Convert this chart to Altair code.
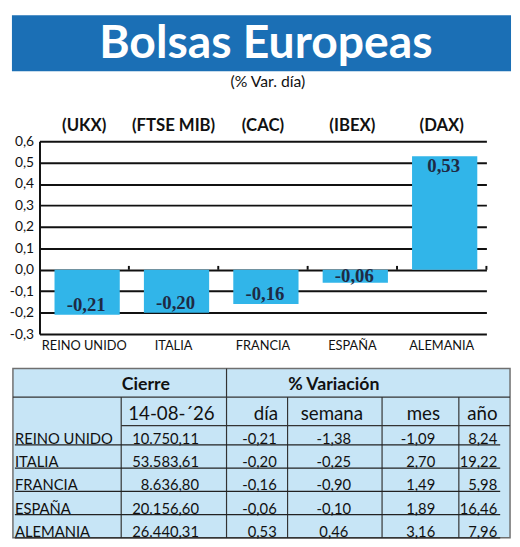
import altair as alt
import pandas as pd

# ---------------- data ----------------
TITLE = "Bolsas Europeas"
SUBTITLE = "(% Var. día)"
paises = ["REINO UNIDO", "ITALIA", "FRANCIA", "ESPAÑA", "ALEMANIA"]
indices = ["(UKX)", "(FTSE MIB)", "(CAC)", "(IBEX)", "(DAX)"]
var_dia = [-0.21, -0.20, -0.16, -0.06, 0.53]
cierre = [10750.11, 53583.61, 8636.80, 20156.60, 26440.31]
var_semana = [-1.38, -0.25, -0.90, -0.10, 0.46]
var_mes = [-1.09, 2.70, 1.49, 1.89, 3.16]
var_anio = [8.24, 19.22, 5.98, 16.46, 7.96]
fecha = "14-08-\u00b426"
col_heads = ["día", "semana", "mes", "año"]
y_ticks = [-0.3, -0.2, -0.1, 0.0, 0.1, 0.2, 0.3, 0.4, 0.5, 0.6]


def es(v):
    return f"{v:.2f}".replace(".", ",")


def es_miles(v):
    return f"{v:,.2f}".replace(",", "X").replace(".", ",").replace("X", ".")


df = pd.DataFrame({
    "pais": paises,
    "indice": indices,
    "dia": var_dia,
    "dia_txt": [es(v) for v in var_dia],
    "cierre_txt": [es_miles(v) for v in cierre],
    "semana_txt": [es(v) for v in var_semana],
    "mes_txt": [es(v) for v in var_mes],
    "anio_txt": [es(v) for v in var_anio],
})
one = pd.DataFrame({"k": [0]})

# ---------------- style ----------------
BLUE = "#1b6fb5"
BAR = "#31b5e9"
TBG = "#c7e5f6"
INK = "#111111"
VAL = "#1e2a44"
SANS = "Lato"
W, H = 454, 196

# ---------------- header ----------------
hb = alt.Chart(one)
banner = hb.mark_rect(color=BLUE).encode(
    x=alt.value(-28), x2=alt.value(479), y=alt.value(2), y2=alt.value(59))
title = hb.mark_text(font=SANS, fontWeight="bold", fontSize=47, color="white",
                     align="center", baseline="alphabetic").encode(
    x=alt.value(230), y=alt.value(46), text=alt.value(TITLE))
subtitle = hb.mark_text(font=SANS, fontSize=16, color=INK,
                        align="center", baseline="alphabetic").encode(
    x=alt.value(232), y=alt.value(75), text=alt.value(SUBTITLE))
header = alt.layer(banner, title, subtitle).properties(width=W, height=130)

# ---------------- bars ----------------
xenc = alt.X("pais:N", sort=paises,
             scale=alt.Scale(paddingInner=0.27, paddingOuter=0.135),
             axis=alt.Axis(title=None, domain=False, ticks=False, grid=False,
                           labelAngle=0, labelFont=SANS, labelFontSize=13,
                           labelColor=INK, labelPadding=6))
yscale = alt.Scale(domain=[-0.3, 0.6], nice=False, zero=False)
yaxis = alt.Axis(title=None, values=y_ticks, grid=True, gridColor=INK, gridWidth=2,
                 domain=True, domainColor=INK, domainWidth=2, ticks=False,
                 labelFont=SANS, labelFontSize=14, labelColor=INK, labelPadding=6,
                 labelExpr="(datum.value < 0 ? '-' : '') + replace(format(abs(datum.value), '.1f'), '.', ',')")

base = alt.Chart(df)
bars = base.mark_bar(color=BAR, xOffset=3).encode(
    x=xenc, y=alt.Y("dia:Q", scale=yscale, axis=yaxis))
zero_ticks = base.mark_rule(color=INK, strokeWidth=2, xOffset=45.4).encode(
    x=xenc, y=alt.Y("z0:Q", scale=yscale, axis=yaxis),
    y2="z1:Q").transform_calculate(z0="0", z1="0.018")
vals = base.transform_calculate(
    ly="datum.dia < 0 ? min(datum.dia + 0.046, datum.dia / 2) : datum.dia - 0.046"
).mark_text(font="Liberation Serif", fontWeight="bold", fontSize=19, color=VAL,
            baseline="middle", align="center", xOffset=2).encode(
    x=xenc, y=alt.Y("ly:Q", scale=yscale, axis=yaxis), text="dia_txt:N")
idx = base.mark_text(font=SANS, fontWeight="bold", fontSize=17, color=INK,
                     baseline="alphabetic", align="center").encode(
    x=xenc, y=alt.value(-10), text="indice:N")
barchart = alt.layer(bars, zero_ticks, vals, idx).properties(width=W, height=H)

# ---------------- table ----------------
tb = alt.Chart(one)
T_L, T_R, T_T, T_B = -27, 478, 35, 207
frame = tb.mark_rect(fill=TBG, stroke="#6f6f6f", strokeWidth=1.5).encode(
    x=alt.value(T_L), x2=alt.value(T_R), y=alt.value(T_T), y2=alt.value(T_B))
lines = [
    (T_L, T_R, 64, 64),   # under first header row
    (83, T_R, 93, 93),    # under second header row
    (83, 83, 64, T_B),
    (190, 190, T_T, T_B),
    (252, 252, 64, T_B),
    (348, 348, 64, T_B),
    (426, 426, 64, T_B),
]
line_layers = [
    tb.mark_rule(color="#333333", strokeWidth=1.2).encode(
        x=alt.value(a), x2=alt.value(b), y=alt.value(c), y2=alt.value(d))
    for a, b, c, d in lines
]


def htext(txt, x, y, size, bold=False):
    return tb.mark_text(font=SANS, fontSize=size, fontWeight="bold" if bold else "normal",
                        color=INK, align="center", baseline="alphabetic").encode(
        x=alt.value(x), y=alt.value(y), text=alt.value(txt))


heads = [
    htext("Cierre", 108, 57, 18, True),
    htext("% Variación", 299, 57, 18, True),
    htext(fecha, 134, 87, 19),
]
for txt, xx in zip(col_heads, [230, 297, 390, 450]):
    heads.append(htext(txt, xx, 87, 19))

ry = alt.Y("pais:N", sort=paises,
           scale=alt.Scale(domain=paises, range=[89, 207], paddingInner=0, paddingOuter=0),
           axis=None, bandPosition=1)
tdata = alt.Chart(df)
row_lines = tdata.mark_rule(color="#222222", strokeWidth=1.2).encode(
    x=alt.value(-25), x2=alt.value(468), y=ry)


def ctext(field, x, align):
    return tdata.mark_text(font=SANS, fontSize=15, color=INK, align=align,
                           baseline="alphabetic", dy=-1).encode(
        x=alt.value(x), y=ry, text=f"{field}:N")


cells = [
    ctext("pais", -25, "left"),
    ctext("cierre_txt", 162, "right"),
    ctext("dia_txt", 241, "right"),
    ctext("semana_txt", 299, "center"),
    ctext("mes_txt", 402, "right"),
    ctext("anio_txt", 465, "right"),
]
table = alt.layer(frame, *line_layers, row_lines, *heads, *cells).properties(
    width=W, height=208)

chart = alt.vconcat(header, barchart, table, spacing=0, bounds="flush").properties(
    padding=0, background="white").configure_view(stroke="transparent")

chart.save("out.html", embed_options={"renderer": "svg", "actions": False})
